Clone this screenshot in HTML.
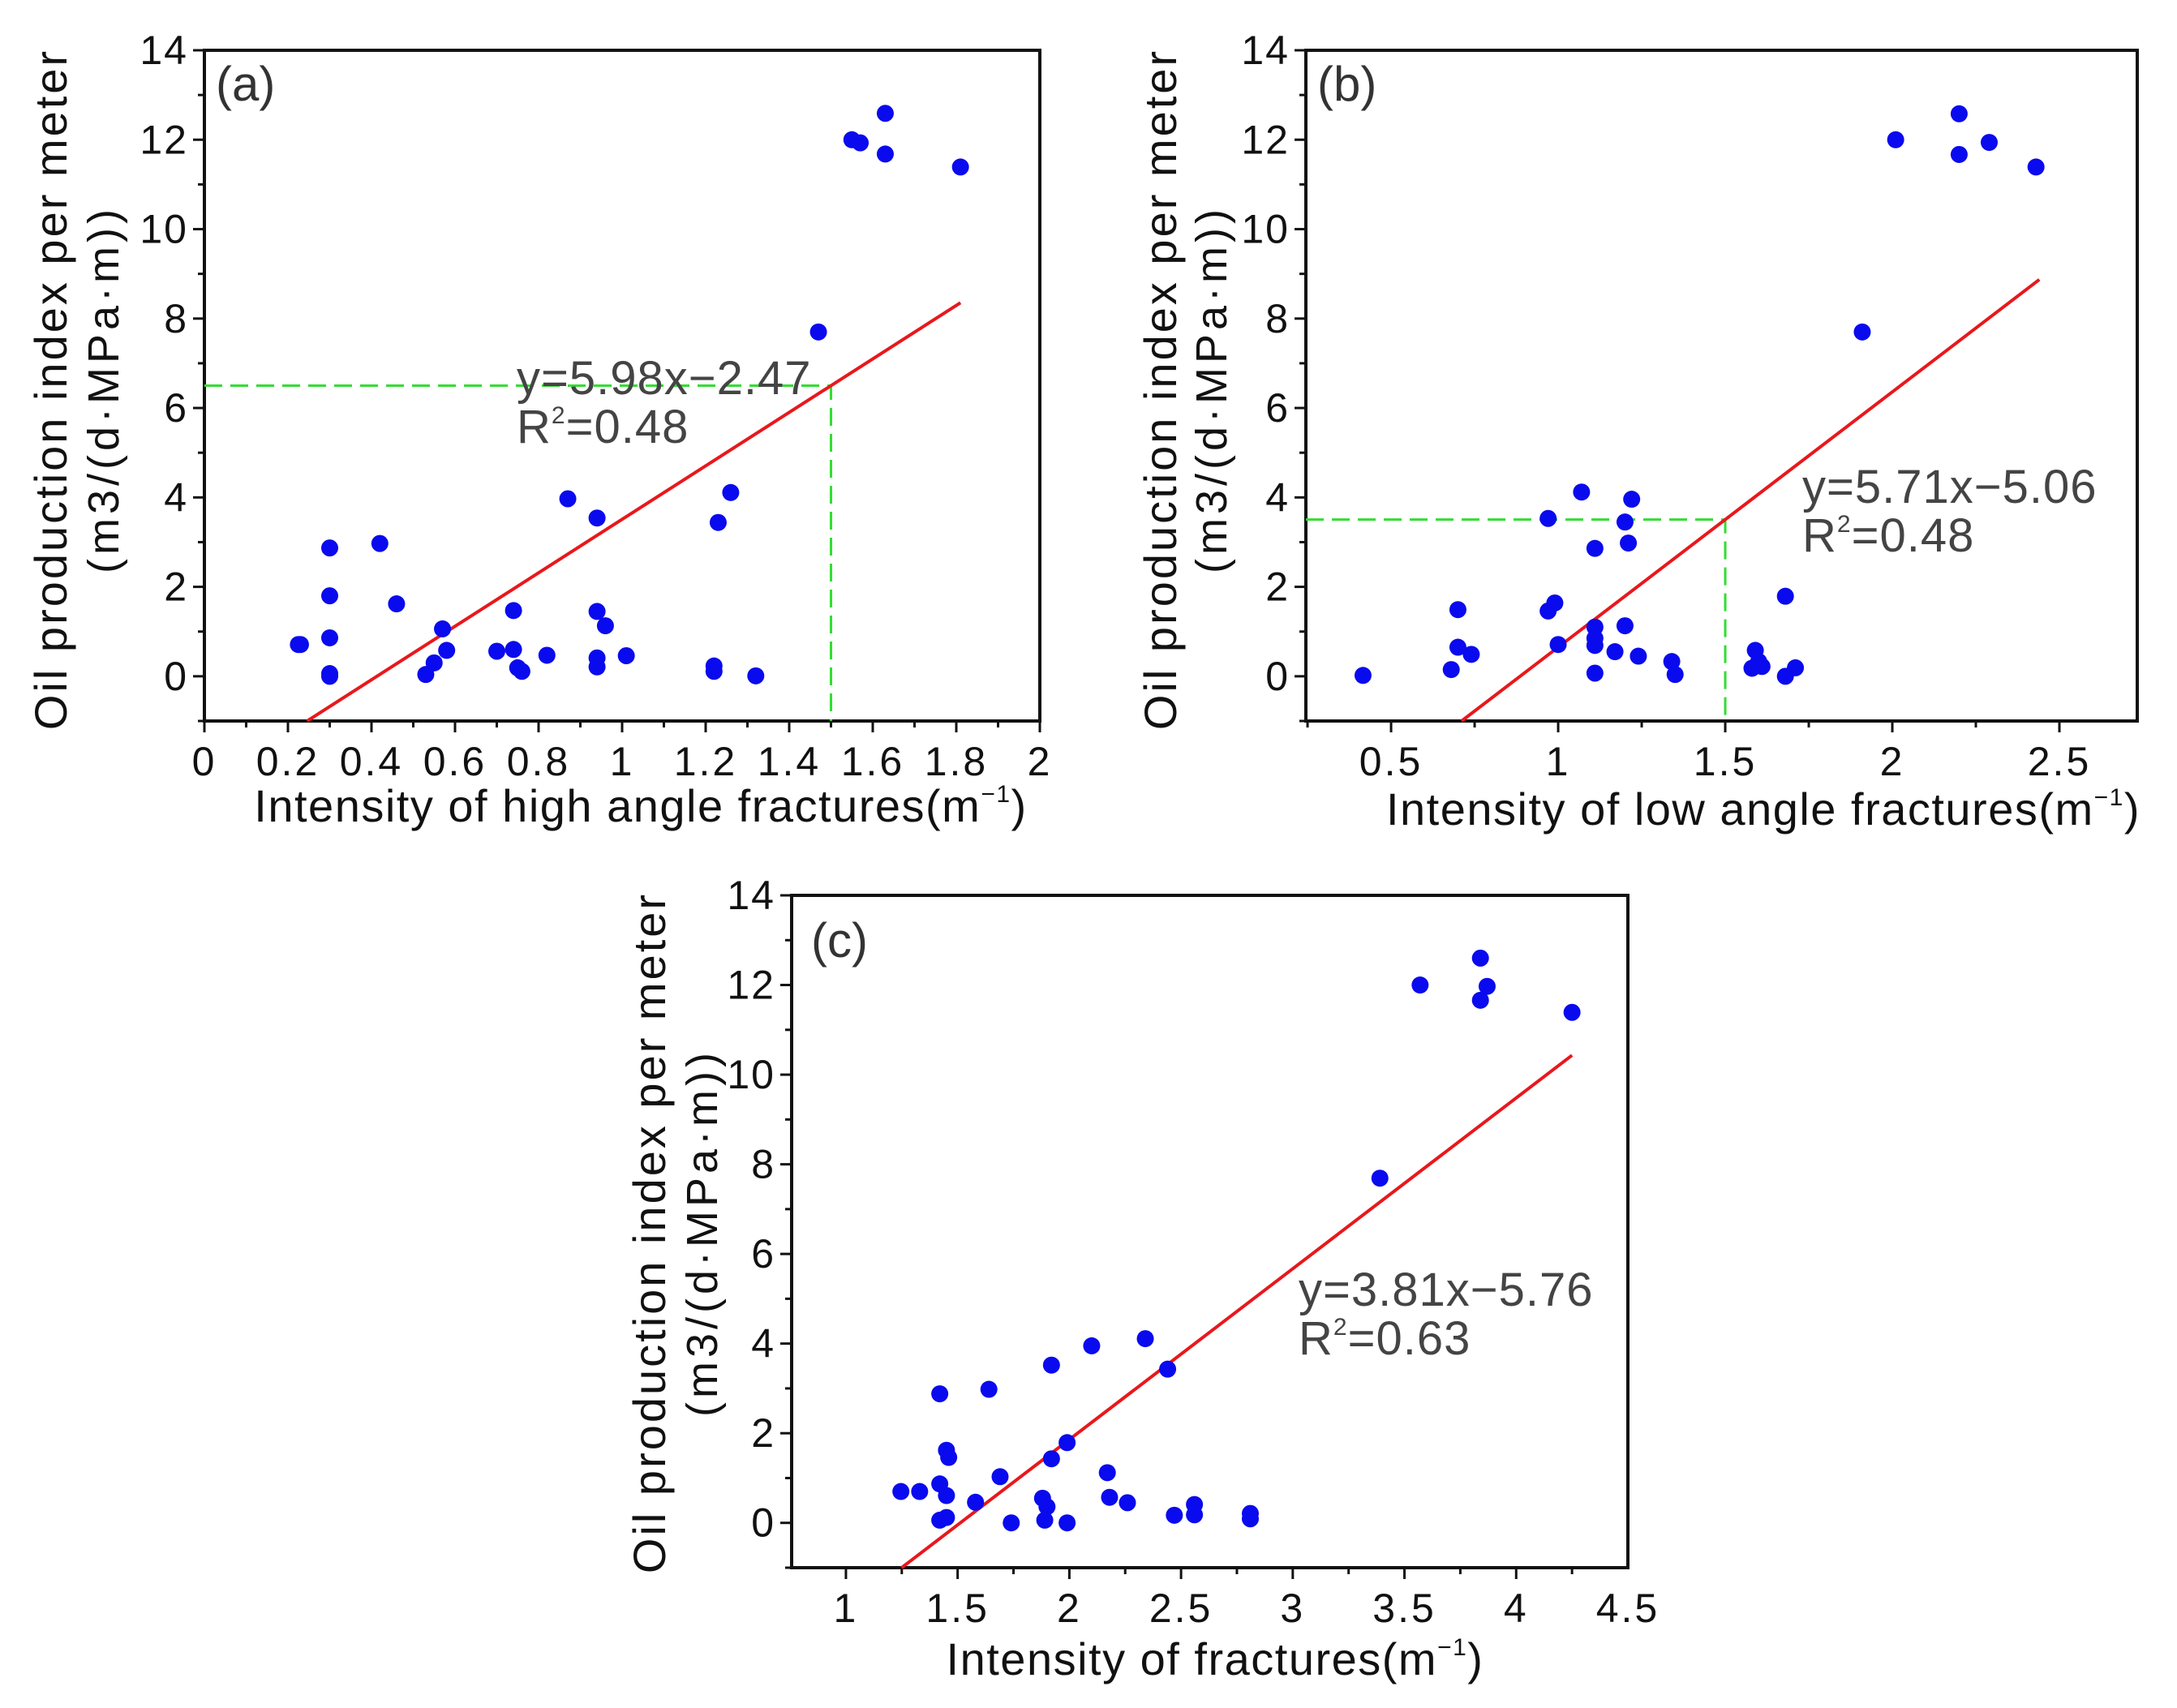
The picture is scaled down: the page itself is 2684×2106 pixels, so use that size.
<!DOCTYPE html>
<html><head><meta charset="utf-8">
<style>
html,body{margin:0;padding:0;background:#fff;}
svg{display:block;font-family:"Liberation Sans",Arial,sans-serif;}
</style></head>
<body>
<svg id="fig" width="2684" height="2106" viewBox="0 0 2684 2106" xmlns="http://www.w3.org/2000/svg"></svg>
<script>
// ---------- data ----------
const aX=[0.225,0.23,0.30,0.30,0.30,0.30,0.30,0.42,0.46,0.57,0.58,0.55,0.53,0.70,0.74,0.74,0.75,0.76,0.82,0.87,0.94,0.94,0.96,0.94,0.94,1.01,1.22,1.22,1.23,1.26,1.32,1.47,1.55,1.57,1.63,1.63,1.81];
const aY=[0.71,0.71,2.87,1.80,0.86,0.06,0.0,2.97,1.62,1.06,0.58,0.30,0.04,0.56,0.60,1.47,0.19,0.11,0.47,3.97,3.54,1.45,1.13,0.41,0.21,0.46,0.23,0.11,3.44,4.11,0.01,7.70,12.0,11.93,12.59,11.68,11.39];
const bX=[0.416,0.68,0.70,0.70,0.74,0.97,0.97,0.99,1.0,1.07,1.11,1.11,1.11,1.11,1.11,1.17,1.20,1.21,1.22,1.20,1.24,1.34,1.35,1.59,1.58,1.60,1.61,1.68,1.68,1.71,1.91,2.01,2.20,2.20,2.29,2.43];
const bY=[0.02,0.15,1.49,0.65,0.49,3.53,1.46,1.64,0.71,4.12,2.86,1.10,0.85,0.69,0.07,0.55,3.45,2.98,3.96,1.13,0.45,0.33,0.04,0.58,0.18,0.33,0.22,1.79,0.0,0.19,7.70,12.0,12.58,11.67,11.94,11.39];
const cX=[1.246,1.33,1.42,1.42,1.45,1.45,1.46,1.42,1.45,1.58,1.64,1.69,1.74,1.88,1.90,1.89,1.92,1.92,1.99,1.99,2.10,2.17,2.18,2.26,2.34,2.44,2.47,2.56,2.56,2.81,2.81,3.39,3.57,3.84,3.84,3.87,4.25];
const cY=[0.70,0.70,2.88,0.87,0.61,1.62,1.46,0.06,0.12,0.46,2.98,1.03,0.0,0.55,0.36,0.06,3.52,1.43,1.79,0.0,3.95,1.12,0.57,0.45,4.11,3.43,0.17,0.41,0.18,0.21,0.09,7.69,12.0,12.6,11.66,11.97,11.39];
const aFit=[5.98,-2.47], bFit=[5.71,-5.06], cFit=[3.81,-5.76];
const aFitRange=[0.246,1.81], bFitRange=[0.711,2.44], cFitRange=[1.249,4.25];
const aXTicks=[0,0.2,0.4,0.6,0.8,1,1.2,1.4,1.6,1.8,2];
const aXTickLabels=["0","0.2","0.4","0.6","0.8","1","1.2","1.4","1.6","1.8","2"];
const bXTicks=[0.5,1,1.5,2,2.5];
const bXTickLabels=["0.5","1","1.5","2","2.5"];
const cXTicks=[1,1.5,2,2.5,3,3.5,4,4.5];
const cXTickLabels=["1","1.5","2","2.5","3","3.5","4","4.5"];
const yTicks=[0,2,4,6,8,10,12,14];
const yTickLabels=["0","2","4","6","8","10","12","14"];

const NS="http://www.w3.org/2000/svg";
const svg=document.getElementById('fig');
function mk(tag,attrs,parent,text){const e=document.createElementNS(NS,tag);for(const k in attrs)e.setAttribute(k,attrs[k]);if(text!==undefined)e.textContent=text;(parent||svg).appendChild(e);return e;}

function panel(o){
  const g=mk('g',{});
  
  
  const sx=v=>o.L+(v-o.x0)/(o.x1-o.x0)*(o.R-o.L);
  const sy=v=>o.B-(v-(-1))/15*(o.B-o.T);
  const fr=mk('rect',{x:o.L,y:o.T,width:o.R-o.L,height:o.B-o.T,fill:'none',stroke:'#111','stroke-width':4},g);
  
  
  for(let v=-1;v<=14;v++){
    const major=v%2===0;
    mk('line',{x1:o.L-(major?14:8),x2:o.L,y1:sy(v),y2:sy(v),stroke:'#111','stroke-width':3},g);
  }
  yTicks.forEach((v,i)=>{
    const t=mk('text',{x:o.L-20,y:sy(v)+17,'text-anchor':'end','font-size':50,'letter-spacing':2,fill:'#111'},g,yTickLabels[i]);
    
    
  });
  for(let v=o.x0;v<=o.x1+1e-9;v+=o.minor){
    const vv=Math.round(v/o.minor)*o.minor;
    if(vv<o.x0-1e-9)continue;
    const major=Math.abs(vv/o.major-Math.round(vv/o.major))<1e-6;
    mk('line',{x1:sx(vv),x2:sx(vv),y1:o.B,y2:o.B+(major?14:8),stroke:'#111','stroke-width':3},g);
  }
  o.xt.forEach((v,i)=>{
    const t=mk('text',{x:sx(v),y:o.B+67,'text-anchor':'middle','font-size':50,'letter-spacing':3,fill:'#111'},g,o.xl[i]);
    
    
  });
  if(o.guide){
    const gy=o.fit[0]*1.5+o.fit[1];
    mk('path',{d:`M${o.L} ${sy(gy)} H${sx(1.5)} V${o.B}`,fill:'none',stroke:'#33dd33','stroke-width':3,'stroke-dasharray':'22 10'},g);
  }
  const fl=mk('line',{x1:sx(o.fr[0]),y1:sy(o.fit[0]*o.fr[0]+o.fit[1]),x2:sx(o.fr[1]),y2:sy(o.fit[0]*o.fr[1]+o.fit[1]),stroke:'#e8181c','stroke-width':4},g);
  
  
  o.xs.forEach((x,i)=>{
    const c=mk('circle',{cx:sx(x),cy:sy(o.ys[i]),r:10.5,fill:'#0a0aee'},g);
    
    
  });
  const pl=mk('text',{x:o.pl[0],y:o.pl[1],'font-size':60,fill:'#333'},g,'('+o.id+')');
  
  
  const eq=mk('text',{x:o.eq[0],y:o.eq[1],'font-size':58,'letter-spacing':1,fill:'#444'},g,o.eqText);
  
  
  const r2=mk('text',{x:o.eq[0],y:o.eq[1]+60,'font-size':58,'letter-spacing':1,fill:'#444'},g);
  
  
  r2.textContent='R';
  mk('tspan',{'font-size':30,dy:-24},r2,'2');
  mk('tspan',{dy:24},r2,'='+o.r2);
  const xt=mk('text',{x:o.xtPos[0],y:o.xtPos[1],'text-anchor':'middle','font-size':56,'letter-spacing':1.5,fill:'#111'},g,o.xTitle);
  
  
  mk('tspan',{}, xt,'(m');
  mk('tspan',{'font-size':30,dy:-24},xt,'−1');
  mk('tspan',{dy:24},xt,')');
  const yt=mk('text',{transform:`translate(${o.yt[0]},${o.yt[2]}) rotate(-90)`,'text-anchor':'middle','font-size':56,'letter-spacing':3,fill:'#111'},g,'Oil production index per meter');
  
  
  const yt2=mk('text',{transform:`translate(${o.yt[1]},${o.yt[2]}) rotate(-90)`,'text-anchor':'middle','font-size':54,fill:'#111','letter-spacing':5},g,'(m3/(d·MPa·m))');
  
  
}

panel({id:'a',L:252,R:1282,T:62,B:889,x0:0,x1:2,minor:0.1,major:0.2,xt:aXTicks,xl:aXTickLabels,xs:aX,ys:aY,fit:aFit,fr:aFitRange,guide:true,
  pl:[266,124],eq:[637,486],eqText:'y=5.98x−2.47',r2:'0.48',xTitle:'Intensity of high angle fractures',xtPos:[790,1013],yt:[82,146,480]});
panel({id:'b',L:1610,R:2635,T:62,B:889,x0:0.245,x1:2.733,minor:0.25,major:0.5,xt:bXTicks,xl:bXTickLabels,xs:bX,ys:bY,fit:bFit,fr:bFitRange,guide:true,
  pl:[1624,124],eq:[2222,620],eqText:'y=5.71x−5.06',r2:'0.48',xTitle:'Intensity of low angle fractures',xtPos:[2174,1017],yt:[1450,1512,480]});
panel({id:'c',L:976,R:2007,T:1104,B:1933,x0:0.757,x1:4.5,minor:0.25,major:0.5,xt:cXTicks,xl:cXTickLabels,xs:cX,ys:cY,fit:cFit,fr:cFitRange,guide:false,
  pl:[1000,1180],eq:[1601,1610],eqText:'y=3.81x−5.76',r2:'0.63',xTitle:'Intensity of fractures',xtPos:[1498,2065],yt:[820,884,1520]});
</script>
</body></html>
